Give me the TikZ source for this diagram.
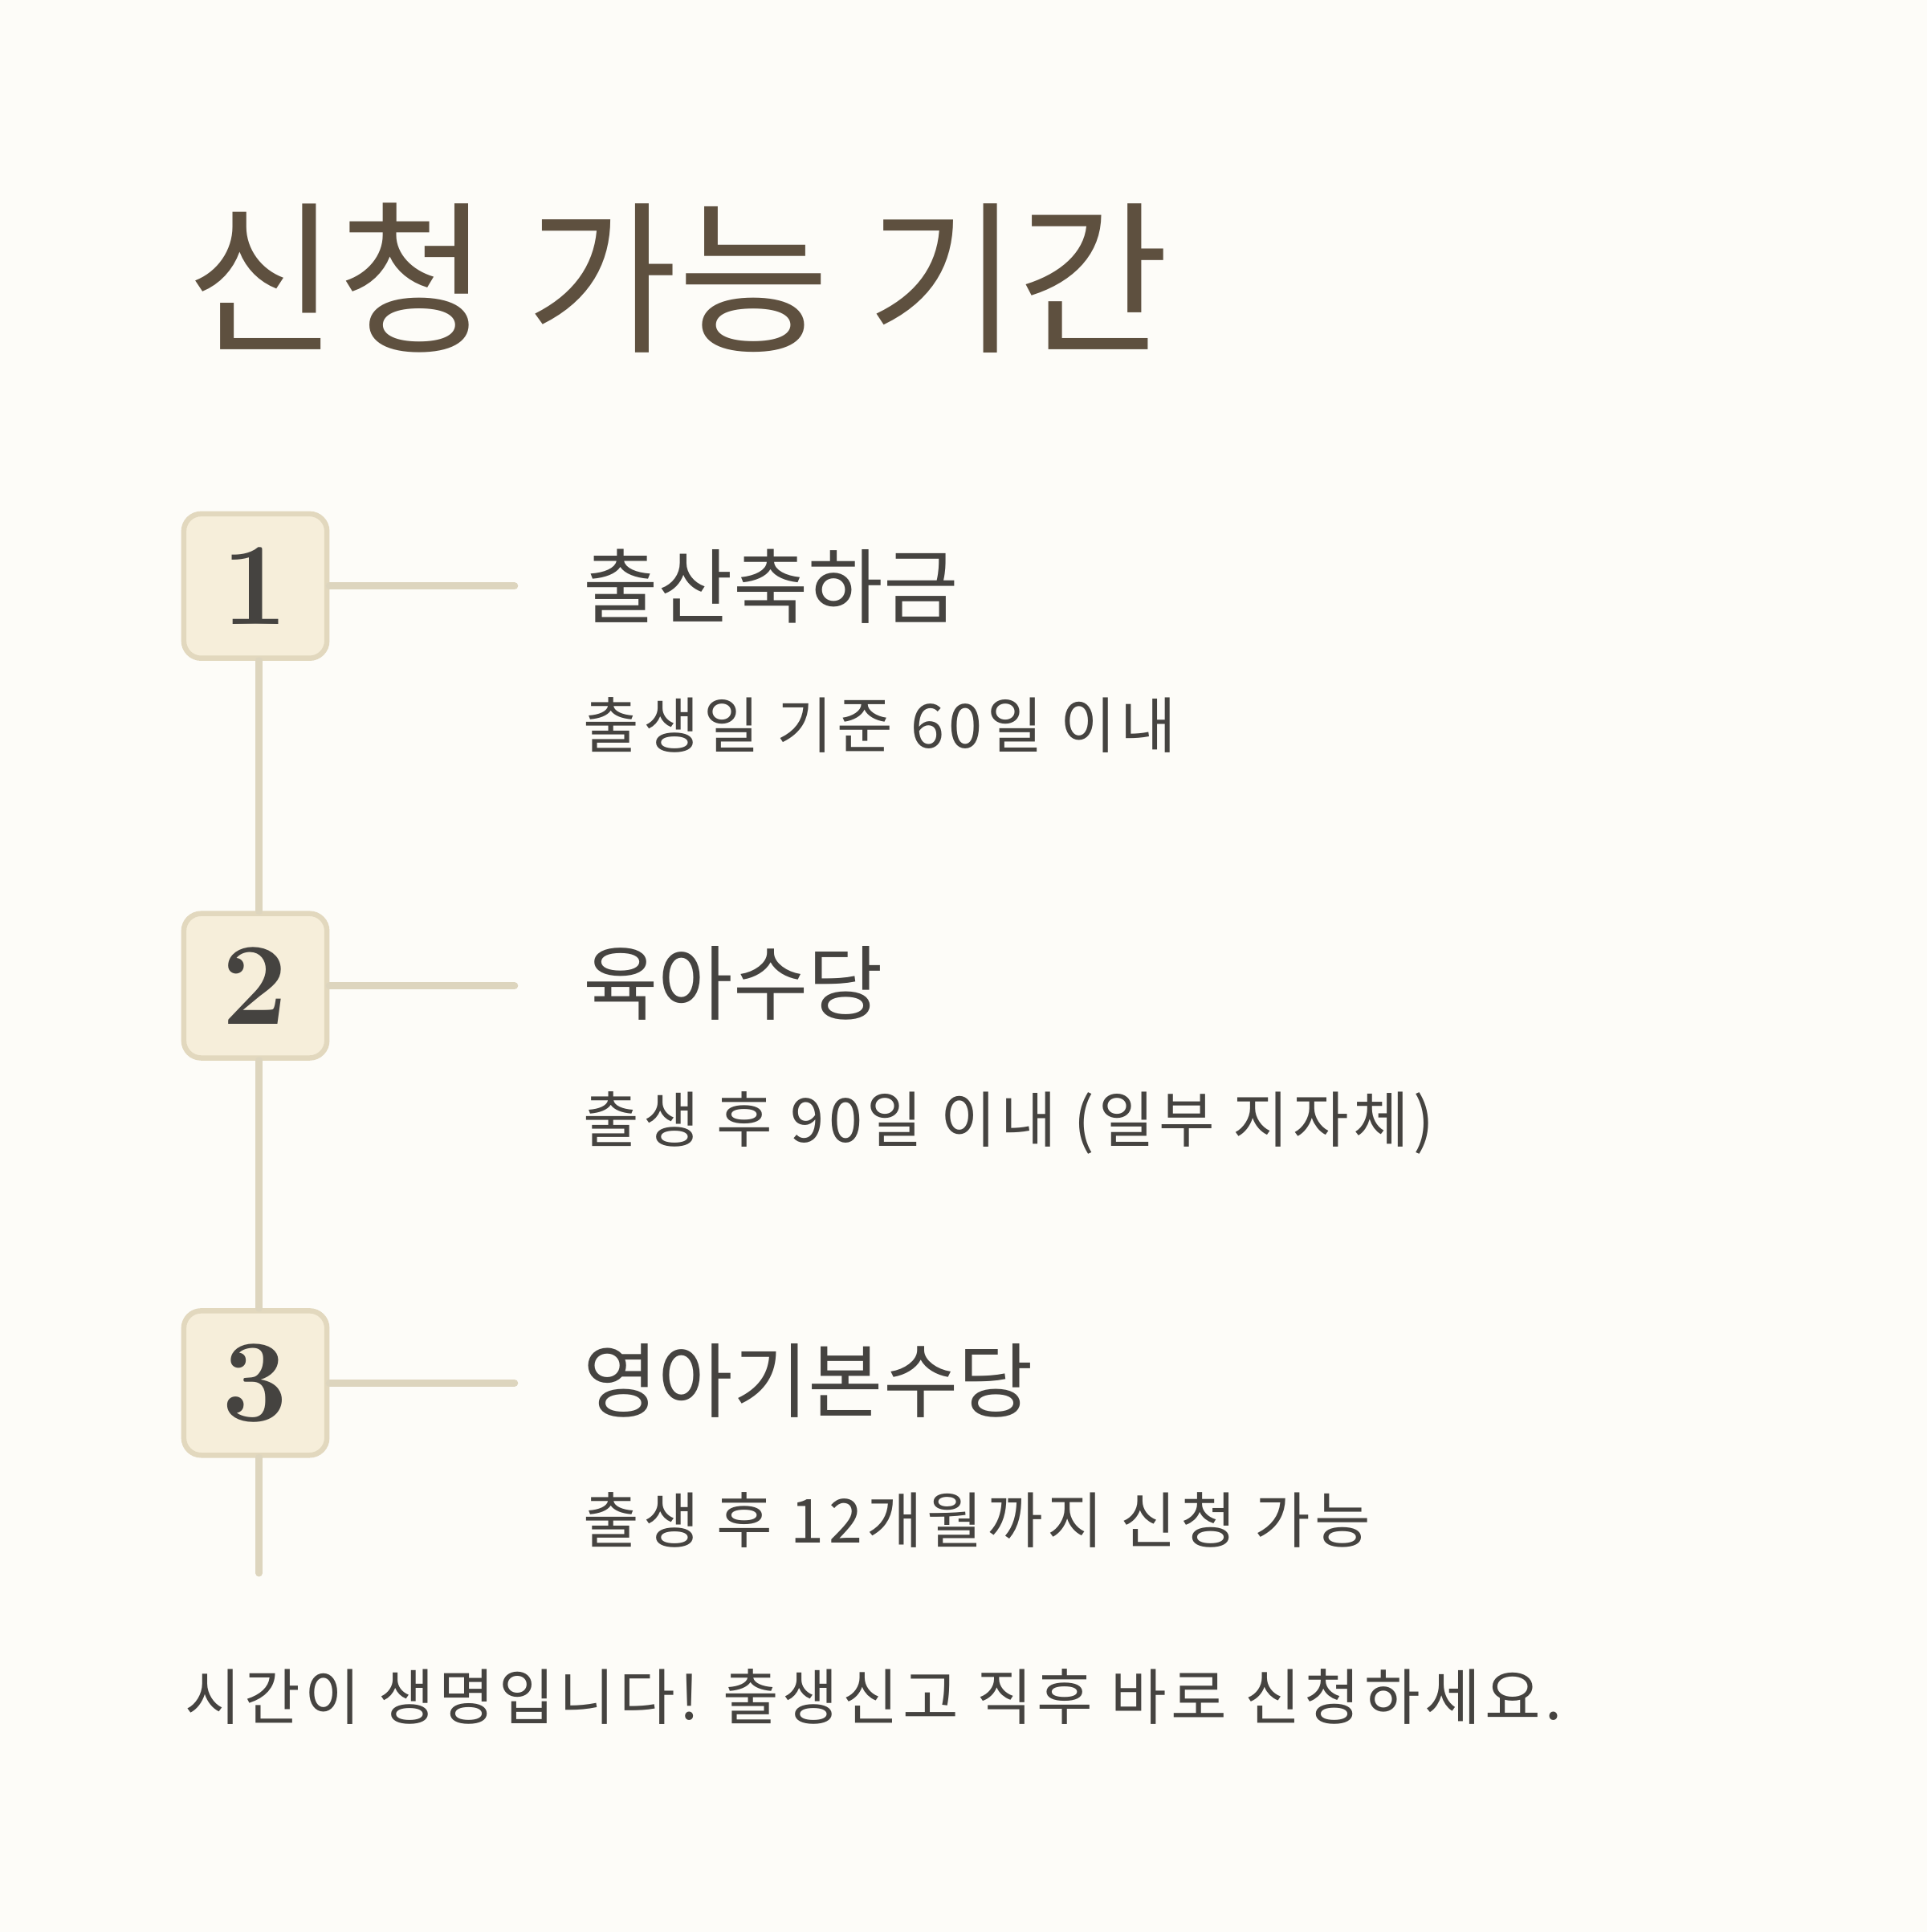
\documentclass[tikz,border=0pt]{standalone}
\usepackage{fontspec}
\setmainfont{Noto Sans CJK KR}
\newfontfamily\numfont{Latin Modern Roman}
\newfontfamily\subfont[LetterSpace=7]{Noto Sans CJK KR}
\definecolor{bg}{HTML}{FDFCF8}
\definecolor{ttl}{HTML}{5E503F}
\definecolor{txt}{HTML}{454340}
\definecolor{boxfill}{HTML}{F6EEDA}
\definecolor{boxline}{HTML}{E2D8BE}
\definecolor{conn}{HTML}{DDD5BE}
\begin{document}
\begin{tikzpicture}[x=0.01cm,y=-0.01cm,
  numbox/.style={draw=boxline,line width=1.2pt,fill=boxfill,rounded corners=4pt,minimum width=1.16cm,minimum height=1.17cm,inner sep=0pt,font=\numfont\bfseries\fontsize{27}{27}\selectfont,text=txt},
  head/.style={anchor=west,inner sep=0pt,text=txt,font=\fontsize{18.8}{22}\selectfont},
  sub/.style={anchor=west,inner sep=0pt,text=txt,font=\subfont\fontsize{14}{17}\selectfont},
  link/.style={draw=conn,line width=1.7pt,line cap=round}]
\fill[bg] (0,0) rectangle (1562,1566);
\useasboundingbox (0,0) rectangle (1562,1566);
\node[anchor=west,inner sep=0pt,text=ttl,font=\fontsize{38}{40}\selectfont] (title) at (150,225) {신청 가능 기간};
\node[numbox] (b1) at (207,475) {1};
\node[numbox] (b2) at (207,799) {2};
\node[numbox] (b3) at (207,1121) {3};
\coordinate (h1) at (417,475);
\coordinate (h2) at (417,799);
\coordinate (h3) at (417,1121);
\coordinate (end) at (210,1275);
\draw[link] (b1.east) -- (h1);
\draw[link] (b2.east) -- (h2);
\draw[link] (b3.east) -- (h3);
\draw[link] (b1.south-|210,0) -- (b2.north-|210,0);
\draw[link] (b2.south-|210,0) -- (b3.north-|210,0);
\draw[link] (b3.south-|210,0) -- (end);
\node[head] (t1) at (472,475) {출산축하금};
\node[sub] (s1) at (472,588) {출생일 기준 60일 이내};
\node[head] (t2) at (472,797) {육아수당};
\node[sub] (s2) at (472,910) {출생 후 90일 이내 (일부 지자체)};
\node[head] (t3) at (472,1119) {영아기본수당};
\node[sub] (s3) at (472,1232) {출생 후 12개월까지 신청 가능};
\node[sub] (foot) at (149,1375) {시간이 생명입니다! 출생신고 직후 바로 신청하세요.};
\end{tikzpicture}
\end{document}
